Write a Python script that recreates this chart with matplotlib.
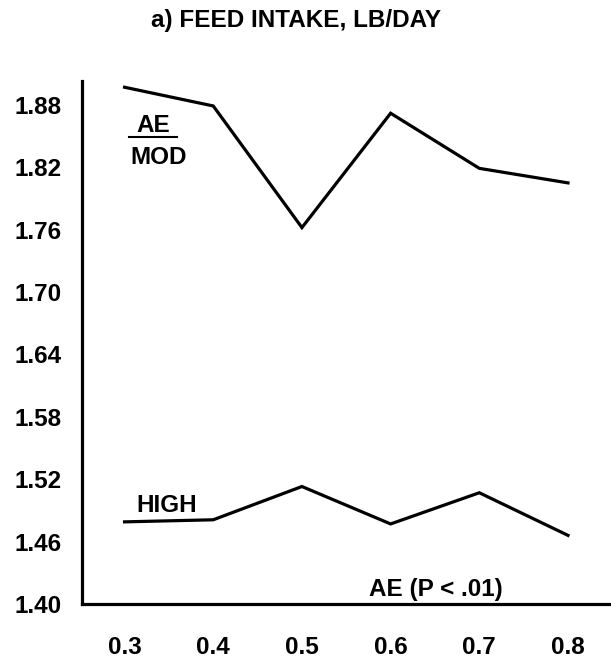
import matplotlib
matplotlib.use("Agg")
import matplotlib.pyplot as plt

# data
ae = [0.3, 0.4, 0.5, 0.6, 0.7, 0.8]
mod = [1.897, 1.879, 1.762, 1.872, 1.819, 1.805]
high = [1.479, 1.481, 1.513, 1.477, 1.507, 1.466]
y_ticks = [1.40, 1.46, 1.52, 1.58, 1.64, 1.70, 1.76, 1.82, 1.88]

plt.rcParams['font.family'] = ['Liberation Sans', 'DejaVu Sans']
plt.rcParams['font.weight'] = 'bold'

fig = plt.figure(figsize=(6.11, 6.61), dpi=100)
ax = fig.add_axes([82 / 611, 1 - 604 / 661, 1 - 82 / 611, (604 - 81) / 661])

ax.plot(ae, mod, color='black', lw=2.3, solid_joinstyle='miter')
ax.plot(ae, high, color='black', lw=2.3, solid_joinstyle='miter')

ax.set_xlim(0.252, 0.8485)
ax.set_ylim(1.40, 1.903)
ax.set_xticks(ae)
ax.set_xticklabels(['%.1f' % v for v in ae])
ax.set_yticks(y_ticks)
ax.set_yticklabels(['%.2f' % v for v in y_ticks])
ax.tick_params(length=0, labelsize=17.5)
ax.tick_params(axis='x', pad=23)
ax.tick_params(axis='y', pad=15)
for lab in ax.get_xticklabels() + ax.get_yticklabels():
    lab.set_fontweight('bold')

for side in ['top', 'right']:
    ax.spines[side].set_visible(False)
for side in ['left', 'bottom']:
    ax.spines[side].set_linewidth(2.3)

# labels inside the plot
fs = 17.5
ax.text(0.332, 1.8606, 'AE', ha='center', va='center', fontsize=fs, fontweight='bold')
ax.plot([0.305, 0.359], [1.849, 1.849], color='black', lw=1.5)
ax.text(0.338, 1.8298, 'MOD', ha='center', va='center', fontsize=fs, fontweight='bold')
ax.text(0.348, 1.4952, 'HIGH', ha='center', va='center', fontsize=fs, fontweight='bold')
ax.text(0.651, 1.4135, 'AE (P < .01)', ha='center', va='center', fontsize=fs, fontweight='bold')

fig.text(0.485, 1 - 20 / 661, 'a) FEED INTAKE, LB/DAY', ha='center', va='center',
         fontsize=17.5, fontweight='bold')

fig.savefig('out.png', dpi=100)
